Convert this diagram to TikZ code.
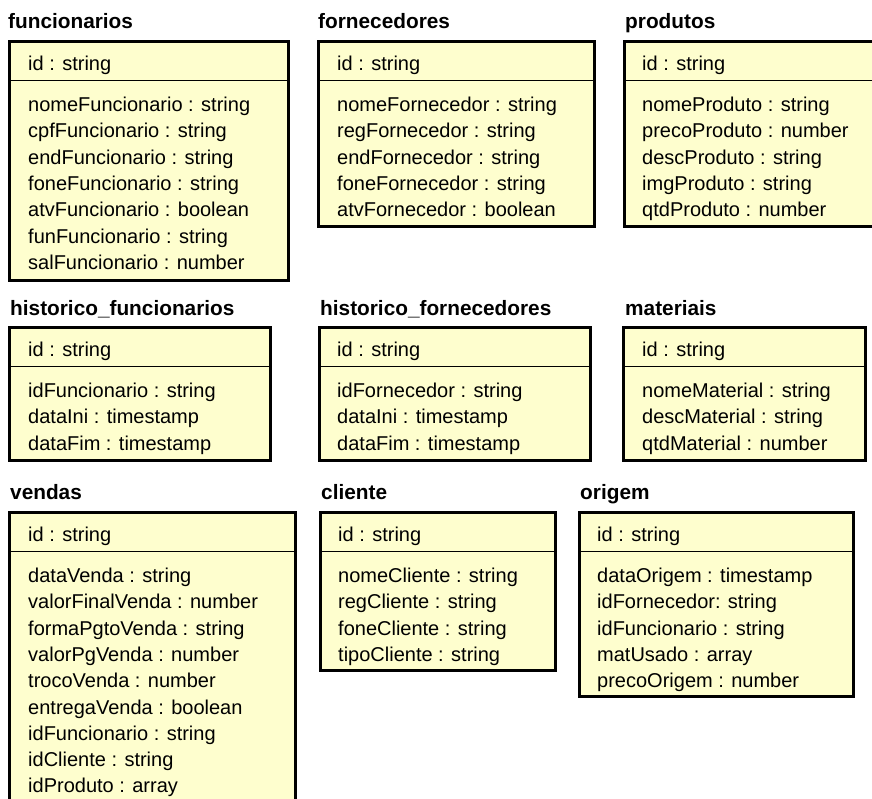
\documentclass[tikz,border=0pt]{standalone}
\usepackage{fontspec}
\setmainfont{Liberation Sans}
\usetikzlibrary{positioning}
\definecolor{umlfill}{HTML}{FEFECE}

\begin{document}
\begin{tikzpicture}[x=1pt, y=-1pt,
  tbox/.style={draw=black, line width=3.2pt, fill=umlfill, anchor=north west, inner sep=0pt},
  ttl/.style={anchor=base west, inner sep=0pt, font=\fontsize{20.8}{24}\selectfont\bfseries},
  attr/.style={anchor=base west, inner sep=0pt, font=\fontsize{20}{24}\selectfont},
  sep/.style={line width=1pt}]
  \clip (0,0) rectangle (872,798);

  % row 1: funcionarios
  \node[ttl] (funcT) at (8,28) {funcionarios};
  \node[tbox, minimum width=279pt, minimum height=239pt] (func) at (8,40) {};
  \draw[sep] ([yshift=-40pt]func.north west) -- ([yshift=-40pt]func.north east);
  \node[attr] (funcId) at (28,70) {id : string};
  \foreach \t [count=\i from 0] in {nomeFuncionario : string, cpfFuncionario : string,
      endFuncionario : string, foneFuncionario : string, atvFuncionario : boolean,
      funFuncionario : string, salFuncionario : number}
    \node[attr] (func\i) at (28,111.5+26.3*\i) {\t};

  % row 1: fornecedores
  \node[ttl] (fornT) at (318,28) {fornecedores};
  \node[tbox, minimum width=276pt, minimum height=185pt] (forn) at (317,40) {};
  \draw[sep] ([yshift=-40pt]forn.north west) -- ([yshift=-40pt]forn.north east);
  \node[attr] (fornId) at (337,70) {id : string};
  \foreach \t [count=\i from 0] in {nomeFornecedor : string, regFornecedor : string,
      endFornecedor : string, foneFornecedor : string, atvFornecedor : boolean}
    \node[attr] (forn\i) at (337,111.5+26.3*\i) {\t};

  % row 1: produtos
  \node[ttl] (prodT) at (625,28) {produtos};
  \node[tbox, minimum width=260pt, minimum height=185pt] (prod) at (623,40) {};
  \draw[sep] ([yshift=-40pt]prod.north west) -- ([yshift=-40pt]prod.north east);
  \node[attr] (prodId) at (642,70) {id : string};
  \foreach \t [count=\i from 0] in {nomeProduto : string, precoProduto : number,
      descProduto : string, imgProduto : string, qtdProduto : number}
    \node[attr] (prod\i) at (642,111.5+26.3*\i) {\t};

  % row 2: historico_funcionarios
  \node[ttl] (hfuncT) at (10,315) {historico\_funcionarios};
  \node[tbox, minimum width=261pt, minimum height=133pt] (hfunc) at (8,326) {};
  \draw[sep] ([yshift=-40pt]hfunc.north west) -- ([yshift=-40pt]hfunc.north east);
  \node[attr] (hfuncId) at (28,356.5) {id : string};
  \foreach \t [count=\i from 0] in {idFuncionario : string, dataIni : timestamp,
      dataFim : timestamp}
    \node[attr] (hfunc\i) at (28,397.5+26.3*\i) {\t};

  % row 2: historico_fornecedores
  \node[ttl] (hfornT) at (320,315) {historico\_fornecedores};
  \node[tbox, minimum width=271pt, minimum height=133pt] (hforn) at (318,326) {};
  \draw[sep] ([yshift=-40pt]hforn.north west) -- ([yshift=-40pt]hforn.north east);
  \node[attr] (hfornId) at (337,356.5) {id : string};
  \foreach \t [count=\i from 0] in {idFornecedor : string, dataIni : timestamp,
      dataFim : timestamp}
    \node[attr] (hforn\i) at (337,397.5+26.3*\i) {\t};

  % row 2: materiais
  \node[ttl] (matT) at (625,315) {materiais};
  \node[tbox, minimum width=242pt, minimum height=133pt] (mat) at (622,326) {};
  \draw[sep] ([yshift=-40pt]mat.north west) -- ([yshift=-40pt]mat.north east);
  \node[attr] (matId) at (642,356.5) {id : string};
  \foreach \t [count=\i from 0] in {nomeMaterial : string, descMaterial : string,
      qtdMaterial : number}
    \node[attr] (mat\i) at (642,397.5+26.3*\i) {\t};

  % row 3: vendas
  \node[ttl] (vendT) at (10,499) {vendas};
  \node[tbox, minimum width=286pt, minimum height=300pt] (vend) at (8,511) {};
  \draw[sep] ([yshift=-40pt]vend.north west) -- ([yshift=-40pt]vend.north east);
  \node[attr] (vendId) at (28,541.5) {id : string};
  \foreach \t [count=\i from 0] in {dataVenda : string, valorFinalVenda : number,
      formaPgtoVenda : string, valorPgVenda : number, trocoVenda : number,
      entregaVenda : boolean, idFuncionario : string, idCliente : string,
      idProduto : array}
    \node[attr] (vend\i) at (28,582.5+26.3*\i) {\t};

  % row 3: cliente
  \node[ttl] (cliT) at (321,499) {cliente};
  \node[tbox, minimum width=235pt, minimum height=158pt] (cli) at (319,511) {};
  \draw[sep] ([yshift=-40pt]cli.north west) -- ([yshift=-40pt]cli.north east);
  \node[attr] (cliId) at (338,541.5) {id : string};
  \foreach \t [count=\i from 0] in {nomeCliente : string, regCliente : string,
      foneCliente : string, tipoCliente : string}
    \node[attr] (cli\i) at (338,582.5+26.3*\i) {\t};

  % row 3: origem
  \node[ttl] (origT) at (580,499) {origem};
  \node[tbox, minimum width=274pt, minimum height=184pt] (orig) at (578,511) {};
  \draw[sep] ([yshift=-40pt]orig.north west) -- ([yshift=-40pt]orig.north east);
  \node[attr] (origId) at (597,541.5) {id : string};
  \foreach \t [count=\i from 0] in {dataOrigem : timestamp, idFornecedor: string,
      idFuncionario : string, matUsado : array, precoOrigem : number}
    \node[attr] (orig\i) at (597,582.5+26.3*\i) {\t};
\end{tikzpicture}
\end{document}
